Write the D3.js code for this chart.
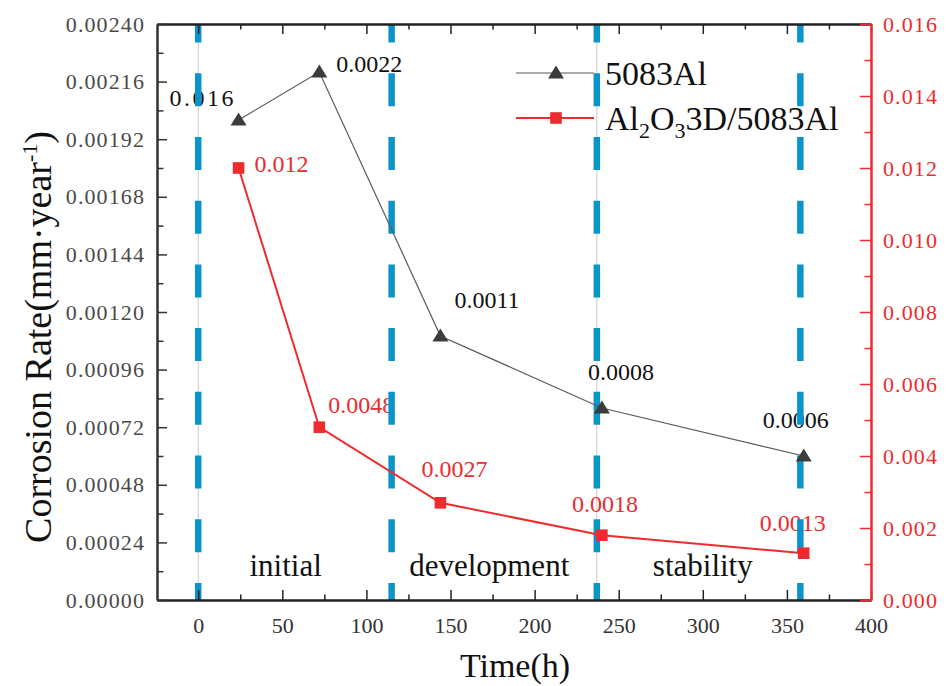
<!DOCTYPE html>
<html>
<head>
<meta charset="utf-8">
<script src="https://cdn.jsdelivr.net/npm/d3@7"></script>
<style>
  html, body { margin: 0; padding: 0; background: #fff; }
  svg { display: block; font-family: "Liberation Serif", "Times New Roman", serif; }
  svg text { font-family: "Liberation Serif", "Times New Roman", serif; }
</style>
</head>
<body>
<svg id="chart" width="946" height="686"></svg>
<script>
// ---------- data ----------
const times = [24, 72, 144, 240, 360];
const seriesAl = [0.00200, 0.00220, 0.00110, 0.00080, 0.00060];        // left axis
const seriesAl2O3 = [0.0120, 0.0048, 0.0027, 0.0018, 0.0013];          // right axis
const labelsAl = ["0.016", "0.0022", "0.0011", "0.0008", "0.0006"];
const labelsAl2O3 = ["0.012", "0.0048", "0.0027", "0.0018", "0.0013"];
const stageBounds = [0, 115, 237, 358];
const stageNames = ["initial", "development", "stability"];
const stageCenters = [52, 173, 300];
const xTicks = [0, 50, 100, 150, 200, 250, 300, 350, 400];
const leftTicks = [0, 0.00024, 0.00048, 0.00072, 0.00096, 0.00120, 0.00144, 0.00168, 0.00192, 0.00216, 0.00240];
const rightTicks = [0, 0.002, 0.004, 0.006, 0.008, 0.010, 0.012, 0.014, 0.016];
const seriesNames = ["5083Al", "Al2O3D/5083Al"];

// ---------- layout ----------
const L = 157, R = 871, T = 24, B = 600;
const svg = d3.select("#chart");
const x = d3.scaleLinear().domain([-24.5, 400]).range([L, R]);
const yL = d3.scaleLinear().domain([0, 0.0024]).range([B, T]);
const yR = d3.scaleLinear().domain([0, 0.016]).range([B, T]);

const BLACK = "#222", GRAY_LINE = "#5a5a5a", MARK = "#3c3c3c", RED = "#ee2b2f", BLUE = "#0b93cc";

// label offsets (layout only)
const offAl = [[-69, -14], [17, 0], [14, -28], [-14, -28], [-41, -28]];
const offRed = [[16, 4], [9, -14], [-19, -26], [-30, -23], [-44, -22]];

svg.append("defs").append("clipPath").attr("id", "plotclip")
  .append("rect").attr("x", L).attr("y", T).attr("width", R - L).attr("height", B - T);

// thin gray vertical guide lines
[0, 237].forEach(v => {
  svg.append("line").attr("x1", x(v)).attr("x2", x(v)).attr("y1", T).attr("y2", B)
    .attr("stroke", "#c8c8c8").attr("stroke-width", 1);
});

// stage labels
svg.append("g").selectAll("text").data(stageNames).join("text")
  .attr("x", (d, i) => x(stageCenters[i])).attr("y", B - 24)
  .attr("text-anchor", "middle").attr("font-size", 31).attr("fill", "#111")
  .text(d => d);

// data labels
const gLab = svg.append("g").attr("font-size", 24);
gLab.selectAll("text.a").data(labelsAl).join("text").attr("class", "a")
  .attr("x", (d, i) => x(times[i]) + offAl[i][0])
  .attr("y", (d, i) => yL(seriesAl[i]) + offAl[i][1])
  .attr("letter-spacing", (d, i) => i === 0 ? "2.5px" : null)
  .attr("fill", "#111").text(d => d);
gLab.selectAll("text.r").data(labelsAl2O3).join("text").attr("class", "r")
  .attr("x", (d, i) => x(times[i]) + offRed[i][0])
  .attr("y", (d, i) => yR(seriesAl2O3[i]) + offRed[i][1])
  .attr("fill", RED).text(d => d);

// blue dashed stage boundaries
svg.append("g").attr("clip-path", "url(#plotclip)").selectAll("line").data(stageBounds).join("line")
  .attr("x1", d => x(d)).attr("x2", d => x(d)).attr("y1", T).attr("y2", B)
  .attr("stroke", BLUE).attr("stroke-width", 6.5)
  .attr("stroke-dasharray", "33 30.7").attr("stroke-dashoffset", 14.4);

// series lines
svg.append("path").datum(times.map((t, i) => [x(t), yL(seriesAl[i])]))
  .attr("d", d3.line()).attr("fill", "none").attr("stroke", GRAY_LINE).attr("stroke-width", 1.2);
svg.append("path").datum(times.map((t, i) => [x(t), yR(seriesAl2O3[i])]))
  .attr("d", d3.line()).attr("fill", "none").attr("stroke", RED).attr("stroke-width", 2);

// markers
const tri = "M0,-7.5L8,5.5L-8,5.5Z";
svg.append("g").selectAll("path").data(times).join("path")
  .attr("transform", (t, i) => `translate(${x(t)},${yL(seriesAl[i])})`)
  .attr("d", tri).attr("fill", MARK);
svg.append("g").selectAll("rect").data(times).join("rect")
  .attr("x", (t, i) => x(t) - 5.8).attr("y", (t, i) => yR(seriesAl2O3[i]) - 5.8)
  .attr("width", 11.6).attr("height", 11.6).attr("fill", RED);

// ---------- axes ----------
const fmtL = d3.format(".5f"), fmtR = d3.format(".3f");
function styleAxis(g, color, width) {
  g.attr("font-family", "Liberation Serif");
  g.select(".domain").attr("stroke", color).attr("stroke-width", width);
  g.selectAll(".tick line").attr("stroke", color).attr("stroke-width", 1.5);
}
const minorX = d3.range(-25, 401, 25).filter(v => v >= -24.5 && v % 50 !== 0);
const minorL = d3.range(0.00012, 0.0024, 0.00024);
const minorR = d3.range(0.001, 0.016, 0.002);

// bottom
let g = svg.append("g").attr("transform", `translate(0,${B})`)
  .call(d3.axisBottom(x).tickValues(xTicks).tickSize(-10).tickSizeOuter(0).tickPadding(17.5).tickFormat(d3.format("d")));
styleAxis(g, BLACK, 2);
g.selectAll("text").attr("font-size", 22).attr("fill", "#333");
g = svg.append("g").attr("transform", `translate(0,${B})`)
  .call(d3.axisBottom(x).tickValues(minorX).tickSize(-5.5).tickSizeOuter(0).tickFormat(""));
styleAxis(g, BLACK, 2);

// top
g = svg.append("g").attr("transform", `translate(0,${T})`)
  .call(d3.axisTop(x).tickValues(xTicks).tickSize(-10).tickSizeOuter(0).tickFormat(""));
styleAxis(g, BLACK, 2);
g = svg.append("g").attr("transform", `translate(0,${T})`)
  .call(d3.axisTop(x).tickValues(minorX).tickSize(-5.5).tickSizeOuter(0).tickFormat(""));
styleAxis(g, BLACK, 2);

// left
g = svg.append("g").attr("transform", `translate(${L},0)`)
  .call(d3.axisLeft(yL).tickValues(leftTicks).tickSize(-10).tickSizeOuter(0).tickPadding(12).tickFormat(fmtL));
styleAxis(g, "#333", 2);
g.selectAll("text").attr("font-size", 22).attr("fill", "#4a4a4a").attr("letter-spacing", "1.1px");
g = svg.append("g").attr("transform", `translate(${L},0)`)
  .call(d3.axisLeft(yL).tickValues(minorL).tickSize(-6.5).tickSizeOuter(0).tickFormat(""));
styleAxis(g, "#333", 2);

// right
g = svg.append("g").attr("transform", `translate(${R},0)`)
  .call(d3.axisRight(yR).tickValues(rightTicks).tickSize(-11).tickSizeOuter(0).tickPadding(12).tickFormat(fmtR));
styleAxis(g, RED, 2);
g.selectAll("text").attr("font-size", 22).attr("fill", RED).attr("letter-spacing", "1.1px");
g = svg.append("g").attr("transform", `translate(${R},0)`)
  .call(d3.axisRight(yR).tickValues(minorR).tickSize(-6.5).tickSizeOuter(0).tickFormat(""));
styleAxis(g, RED, 2);

// axis titles
svg.append("text").attr("x", 515).attr("y", 677).attr("text-anchor", "middle")
  .attr("font-size", 34).attr("fill", "#111").text("Time(h)");
const yt = svg.append("text").attr("transform", "translate(51,337) rotate(-90)")
  .attr("text-anchor", "middle").attr("font-size", 38).attr("fill", "#111");
yt.append("tspan").text("Corrosion Rate(mm·year");
yt.append("tspan").attr("font-size", 22).attr("dy", -14).text("-1");
yt.append("tspan").attr("dy", 14).text(")");

// ---------- legend ----------
const lg = svg.append("g");
lg.append("line").attr("x1", 516).attr("x2", 594).attr("y1", 73).attr("y2", 73)
  .attr("stroke", GRAY_LINE).attr("stroke-width", 1.2);
lg.append("path").attr("transform", "translate(556,73)").attr("d", tri).attr("fill", MARK);
lg.append("text").attr("x", 605).attr("y", 85).attr("font-size", 34).attr("fill", "#111").text(seriesNames[0]);
lg.append("line").attr("x1", 516).attr("x2", 594).attr("y1", 118).attr("y2", 118)
  .attr("stroke", RED).attr("stroke-width", 2);
lg.append("rect").attr("x", 550.2).attr("y", 112.2).attr("width", 11.6).attr("height", 11.6).attr("fill", RED);
const lt = lg.append("text").attr("x", 605).attr("y", 130).attr("font-size", 34).attr("fill", "#111");
lt.append("tspan").text("Al");
lt.append("tspan").attr("font-size", 22).attr("dy", 8).text("2");
lt.append("tspan").attr("dy", -8).text("O");
lt.append("tspan").attr("font-size", 22).attr("dy", 8).text("3");
lt.append("tspan").attr("dy", -8).text("3D/5083Al");
</script>
</body>
</html>
